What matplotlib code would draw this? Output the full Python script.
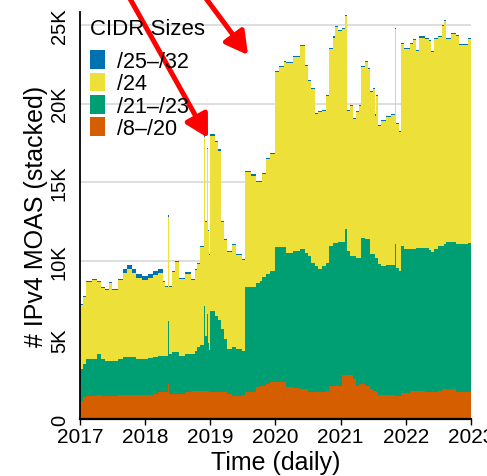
import numpy as np
import matplotlib
matplotlib.use("Agg")
import matplotlib.pyplot as plt

plt.rcParams['font.family'] = ['Liberation Sans', 'DejaVu Sans']

# knots (decimal years); each value holds until the next knot
years = [2017.00, 2017.05, 2017.10, 2017.18, 2017.19, 2017.27, 2017.33, 2017.38,
         2017.44, 2017.50, 2017.58, 2017.66, 2017.72, 2017.80, 2017.86, 2017.95,
         2018.05, 2018.12, 2018.20, 2018.27, 2018.31, 2018.355, 2018.365, 2018.41,
         2018.46, 2018.52, 2018.62, 2018.70, 2018.76, 2018.80, 2018.85, 2018.90,
         2018.915, 2018.95, 2018.96, 2018.985, 2019.00, 2019.07, 2019.12, 2019.16,
         2019.21, 2019.26, 2019.33, 2019.40, 2019.48, 2019.54, 2019.62, 2019.70,
         2019.76, 2019.80, 2019.86, 2019.92, 2019.99, 2020.06, 2020.13, 2020.17,
         2020.27, 2020.38, 2020.45, 2020.50, 2020.55, 2020.60, 2020.66, 2020.72,
         2020.78, 2020.83, 2020.88, 2020.92, 2020.96, 2021.02, 2021.07, 2021.10,
         2021.14, 2021.19, 2021.24, 2021.29, 2021.32, 2021.37, 2021.42, 2021.45,
         2021.50, 2021.53, 2021.55, 2021.575, 2021.62, 2021.70, 2021.77, 2021.84,
         2021.85, 2021.89, 2021.93, 2021.98, 2022.06, 2022.11, 2022.16, 2022.21,
         2022.29, 2022.35, 2022.38, 2022.43, 2022.50, 2022.55, 2022.59, 2022.62,
         2022.70, 2022.77, 2022.81, 2022.95, 2023.00]

# stacked tops
top_8_20 = [1160, 1400, 1475, 2110, 1475, 1500, 1475, 1475,
            1475, 1475, 1500, 1500, 1500, 1500, 1500, 1500,
            1550, 1600, 1690, 1690, 1690, 2215, 1600, 1580,
            1580, 1580, 1700, 1790, 1790, 1790, 1790, 1790,
            1790, 1790, 1790, 1690, 1690, 1690, 1690, 1690,
            1690, 1600, 1475, 1475, 1500, 1730, 1730, 2000,
            2110, 2110, 2200, 2320, 2320, 2320, 2320, 2000,
            1950, 1900, 1900, 1690, 1690, 1690, 1690, 1690,
            1800, 2110, 2110, 2110, 2110, 2785, 2785, 2785,
            2785, 2530, 2110, 2215, 2215, 2110, 2110, 1900,
            1790, 1790, 1700, 1520, 1520, 1520, 1500, 1475,
            1475, 1475, 1640, 1640, 1790, 1790, 1790, 1790,
            1690, 1690, 1690, 1690, 1790, 1900, 1900, 1900,
            1900, 1690, 1690, 1690, 1690]

top_21_23 = [3165, 3500, 3800, 4560, 3800, 4110, 3800, 3700,
             3700, 3700, 3800, 3900, 3950, 3900, 3800, 3800,
             3850, 3900, 4010, 4010, 4000, 6220, 4100, 4220,
             4220, 4010, 4110, 4110, 4300, 4540, 4700, 7170,
             5270, 6650, 4800, 4400, 6860, 6540, 6300, 5700,
             5060, 4430, 4540, 4430, 4320, 8340, 8340, 8600,
             8760, 9000, 9180, 9390, 10930, 10930, 10930, 10550,
             10650, 10780, 10500, 10340, 9920, 9700, 9540, 9700,
             9920, 10970, 11180, 11180, 11200, 11200, 12030, 10650,
             10340, 10340, 10230, 10230, 11500, 11400, 11400, 10440,
             10440, 10230, 10230, 9810, 9700, 9750, 9750, 11080,
             9600, 9390, 10970, 10760, 10760, 10800, 10870, 10870,
             10870, 10700, 10620, 10800, 10970, 11000, 11100, 11200,
             11220, 11080, 11100, 11180, 11180]

top_24 = [7280, 7800, 8760, 9560, 8860, 8760, 8400, 8230,
          8670, 8230, 8860, 9500, 9750, 9500, 9180, 9070,
          9180, 9390, 9500, 8760, 8440, 12910, 8440, 9390,
          10020, 8970, 9290, 8860, 9500, 9920, 10970, 17930,
          12550, 17200, 12000, 10440, 18040, 17620, 17090, 12550,
          11390, 10650, 11080, 10440, 10130, 15720, 15510, 15090,
          15090, 15620, 16560, 16880, 22050, 22410, 22680, 22620,
          23000, 23740, 22470, 21520, 20990, 19410, 19510, 19620,
          20570, 23530, 24260, 24940, 24690, 24790, 25640, 19620,
          19940, 19100, 19510, 19940, 22370, 22680, 22260, 20780,
          21000, 19310, 20570, 18670, 18950, 19200, 19370, 24790,
          18780, 18250, 23840, 23530, 23840, 24090, 23420, 24260,
          24160, 24050, 23310, 24160, 24310, 25000, 25320, 24160,
          24480, 24370, 23800, 24160, 24160]

# /25-/32 is a thin band on top
blue_years = [2017.00, 2017.64, 2018.27]
blue_vals = [70, 230, 70]

labels = ['/8\u2013/20', '/21\u2013/23', '/24', '/25\u2013/32']
colors = ['#D55E00', '#009E73', '#EDE038', '#0072B2']

x = np.array(years)
o = np.array(top_8_20)
g = np.array(top_21_23)
t = np.array(top_24)
b = np.array(blue_vals)[np.searchsorted(blue_years, x, side='right') - 1]

fig = plt.figure(figsize=(4.87, 4.77), dpi=100)
ax = fig.add_axes([0.164, 0.1195, 0.803, 0.853])

ax.grid(axis='y', color='#d8d8d8', lw=1.2)
ax.set_axisbelow(True)

h1 = ax.fill_between(x, 0, o, step='post', color=colors[0], lw=0, label=labels[0])
h2 = ax.fill_between(x, o, g, step='post', color=colors[1], lw=0, label=labels[1])
h3 = ax.fill_between(x, g, t - b, step='post', color=colors[2], lw=0, label=labels[2])
h4 = ax.fill_between(x, t - b, t, step='post', color=colors[3], lw=0, label=labels[3])

ax.set_xlim(2017, 2023)
ax.set_ylim(0, 25800)
ax.set_xticks(range(2017, 2024))
ax.set_yticks([0, 5000, 10000, 15000, 20000, 25000])
ax.set_yticklabels(['0', '5K', '10K', '15K', '20K', '25K'], rotation=90, va='center')
ax.tick_params(axis='y', length=0, pad=8, labelsize=14.5)
ax.tick_params(axis='x', length=4, width=1, pad=2, labelsize=15)
for s in ['top', 'right']:
    ax.spines[s].set_visible(False)
ax.spines['left'].set_linewidth(1.3)
ax.spines['bottom'].set_linewidth(1.6)

ax.set_xlabel('Time (daily)', fontsize=18, labelpad=3)
ax.set_ylabel('# IPv4 MOAS (stacked)', fontsize=18, labelpad=1)

leg = ax.legend(handles=[h4, h3, h2, h1], title='CIDR Sizes', loc='upper left',
                bbox_to_anchor=(-0.012, 1.022), frameon=False, fontsize=15.5,
                title_fontsize=16, labelspacing=0.03, handlelength=0.7,
                handleheight=0.95, handletextpad=0.55, alignment='left',
                borderaxespad=0.3)
leg._legend_box.sep = 8

arrow = dict(arrowstyle='-|>,head_length=0.9,head_width=0.5', color='red',
             lw=3.6, shrinkA=0, shrinkB=0, mutation_scale=15)
ax.annotate('', xy=(208, 338), xytext=(124, 488), xycoords='figure pixels',
            textcoords='figure pixels', arrowprops=arrow, annotation_clip=False)
ax.annotate('', xy=(248, 421), xytext=(196, 491), xycoords='figure pixels',
            textcoords='figure pixels', arrowprops=arrow, annotation_clip=False)

fig.savefig('out.png', dpi=100)
